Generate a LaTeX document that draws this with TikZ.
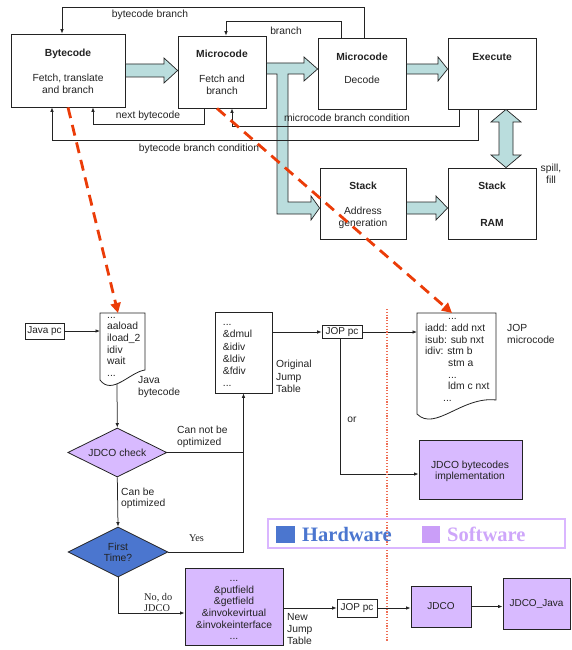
\documentclass[tikz,border=0pt]{standalone}
\usepackage{fontspec}
\setmainfont{Liberation Sans}
\newfontfamily\serifface{Liberation Serif}
\usetikzlibrary{arrows.meta,shapes.geometric,calc}

\definecolor{pipeteal}{RGB}{186,221,221}
\definecolor{swfill}{RGB}{216,186,255}
\definecolor{hwblue}{RGB}{75,118,207}
\definecolor{swkey}{RGB}{202,158,248}
\definecolor{swword}{RGB}{206,166,250}
\definecolor{legendframe}{RGB}{218,182,255}
\definecolor{pathred}{RGB}{235,60,8}
\definecolor{splitred}{RGB}{238,110,85}
\definecolor{ink}{RGB}{35,35,35}

\tikzset{
  every node/.style={text=ink},
  blk/.style={draw=ink, line width=0.8pt, fill=white, inner sep=0pt},
  swblk/.style={blk, fill=swfill, line width=1pt},
  pipe/.style={fill=pipeteal, draw=ink, line width=0.7pt, line join=miter},
  wire/.style={draw=ink, line width=0.75pt},
  wirearr/.style={wire, -{Latex[length=4.5pt,width=3.6pt]}},
  redpath/.style={draw=pathred, line width=2.8pt, dash pattern=on 11pt off 7pt,
    -{Triangle[length=10pt,width=10pt]}},
  splitline/.style={draw=splitred, line width=1.2pt, dash pattern=on 1.2pt off 1.6pt},
  txt/.style={font=\fontsize{10.3}{12}\selectfont, inner sep=0pt},
  lbl/.style={txt, anchor=base},
  blockc/.style={txt, align=center, anchor=north},
  blockl/.style={txt, align=left, anchor=north west},
  holder/.style={inner sep=0pt, outer sep=0pt},
}

\begin{document}
\begin{tikzpicture}[x=1pt, y=-1pt]
\useasboundingbox (0,0) rectangle (571,650);

% ---------------- pipeline stages ----------------
\node[blk, minimum width=114pt, minimum height=73pt] (bc) at (68,70.5) {};
\node[blk, minimum width=88pt, minimum height=72pt] (mf) at (222,72) {};
\node[blk, minimum width=88pt, minimum height=71pt] (md) at (362,73.5) {};
\node[blk, minimum width=88pt, minimum height=71pt] (ex) at (492,73.5) {};
\node[blk, minimum width=86pt, minimum height=71pt] (sa) at (363,203.5) {};
\node[blk, minimum width=88pt, minimum height=71pt] (ram) at (492,203.5) {};

\node[blockc] (bctext) at (68,48.2) {\strut\textbf{Bytecode}\\[13pt]Fetch, translate\\and branch};
\node[blockc] (mftext) at (222,49.2) {\strut\textbf{Microcode}\\[13pt]Fetch and\\branch};
\node[blockc] (mdtext) at (362,52.2) {\strut\textbf{Microcode}\\[11pt]Decode};
\node[blockc] (extext) at (492,52.2) {\strut\textbf{Execute}};
\node[blockc] (satext) at (363,181.2) {\strut\textbf{Stack}\\[13pt]Address\\generation};
\node[blockc] (ramtext) at (492,181.2) {\strut\textbf{Stack}\\[25pt]\textbf{RAM}};

% wide data-path arrows
\draw[pipe] (bc.east |- 0,64) -- (164,64) -- (164,58) -- (mf.west |- 0,70.5)
  -- (164,83) -- (164,77) -- (bc.east |- 0,77) -- cycle;
\draw[pipe] (mf.east |- 0,63) -- (304,63) -- (304,57) -- (md.west |- 0,69)
  -- (304,81) -- (304,74) -- (288,74) -- (288,202) -- (311,202) -- (311,196)
  -- (sa.west |- 0,208) -- (311,220) -- (311,214) -- (277,214) -- (277,74)
  -- (mf.east |- 0,74) -- cycle;
\draw[pipe] (md.east |- 0,64) -- (438,64) -- (438,57) -- (ex.west |- 0,69)
  -- (438,81) -- (438,74) -- (md.east |- 0,74) -- cycle;
\draw[pipe] (sa.east |- 0,202) -- (436,202) -- (436,196) -- (ram.west |- 0,208)
  -- (436,220) -- (436,214) -- (sa.east |- 0,214) -- cycle;
\draw[pipe] (ex.south -| 506,0) -- (521,122) -- (513,122) -- (513,155) -- (521,155)
  -- (ram.north -| 506,0) -- (491,155) -- (499,155) -- (499,122) -- (491,122) -- cycle;

% control feedback wires
\draw[wirearr] (md.north -| 364,0) -- (364,7) -- (62,7) -- (bc.north -| 62,0);
\draw[wirearr] (md.north -| 341,0) -- (341,21) -- (226,21) -- (mf.north -| 226,0);
\draw[wirearr] (mf.south -| 204,0) -- (204,124) -- (93,124) -- (bc.south -| 93,0);
\draw[wirearr] (ex.south -| 459,0) -- (459,126) -- (232,126) -- (mf.south -| 232,0);
\draw[wirearr] (ex.south -| 478,0) -- (478,140) -- (52,140) -- (bc.south -| 52,0);

\node[lbl] (lbbranch) at (150,17.5) {bytecode branch};
\node[lbl] (lmbranch) at (286,34.5) {branch};
\node[lbl] (lnext) at (148,118.5) {next bytecode};
\node[lbl] (lmcond) at (347,121.5) {microcode branch condition};
\node[lbl] (lbcond) at (199,151.5) {bytecode branch condition};
\node[blockc] (lspill) at (551,163.1) {\strut spill,\\fill};

% ---------------- bytecode dispatch ----------------
\node[blk, minimum width=39pt, minimum height=16pt] (javapc) at (44.5,331) {Java pc};

\node[holder, minimum width=45pt, minimum height=67pt] (jbc) at (122.5,346.5) {};
\draw[blk] (jbc.north west) -- (jbc.north east) -- (145,370)
  .. controls (130,372) and (112,396) .. (jbc.south west) -- cycle;
\node[blockl, font=\fontsize{10.3}{11.7}\selectfont] (jbctext) at (107,309.7)
  {\strut...\\aaload\\iload\_2\\idiv\\wait\\...};
\coordinate (jbcfoot) at (117,384);
\node[blockl] (ljbc) at (138,375.1) {\strut Java\\bytecode};

\node[blk, minimum width=57pt, minimum height=81pt] (ojt) at (243.5,352.5) {};
\node[blockl, font=\fontsize{10.3}{12.2}\selectfont] (ojttext) at (222.7,317)
  {\strut...\\\&dmul\\\&idiv\\\&ldiv\\\&fdiv\\...};
\node[blockl, font=\fontsize{10.3}{12.5}\selectfont] (lojt) at (276,358.75)
  {\strut Original\\Jump\\Table};

\node[blk, minimum width=40pt, minimum height=13pt] (jp1) at (342,332) {JOP pc};

\node[holder, minimum width=79pt, minimum height=101pt] (jm) at (456.5,363.5) {};
\draw[blk] (jm.north west) -- (jm.north east) -- (496,400)
  .. controls (462,396) and (435,432) .. (jm.south west) -- cycle;
\node[blockl, font=\fontsize{10.3}{11.7}\selectfont] (jmtext) at (425,311.3)
  {\strut\hspace*{23pt}...\\iadd: add nxt\\isub: sub nxt\\idiv: stm b\\
   \hspace*{23pt}stm a\\\hspace*{23pt}...\\\hspace*{23pt}ldm c nxt\\\hspace*{18pt}...};
\node[blockl] (ljm) at (507,323.1) {\strut JOP\\microcode};

\node[swblk, minimum width=103pt, minimum height=59pt] (impl) at (470.5,469.5) {};
\node[blockc, font=\fontsize{10.3}{11}\selectfont] (impltext) at (470,460.9)
  {\strut JDCO bytecodes\\implementation};
\node[lbl] (lor) at (352,422.5) {or};

\node[diamond, draw=ink, line width=0.8pt, fill=swfill, aspect=2, inner sep=0pt,
  minimum width=99pt, minimum height=49pt, txt] (jc) at (117.3,452.5) {JDCO check};
\node[diamond, draw=ink, line width=0.8pt, fill=hwblue, aspect=2, inner sep=0pt,
  minimum width=100pt, minimum height=50pt, txt, align=center,
  font=\fontsize{10.3}{11}\selectfont] (ft) at (118,552) {First\\Time?};

\node[blockl] (lcannot) at (177,425.1) {\strut Can not be\\optimized};
\node[blockl, font=\fontsize{10.3}{11}\selectfont] (lcan) at (121,487.8) {\strut Can be\\optimized};
\node[lbl, font=\fontsize{10.3}{12}\serifface] (lyes) at (196.5,541.5) {Yes};
\node[blockl, font=\fontsize{10.3}{10.5}\serifface] (lno) at (144,593.15) {\strut No, do\\JDCO};

\node[swblk, minimum width=98pt, minimum height=77pt] (njt) at (234,606.5) {};
\node[blockc, font=\fontsize{10.3}{11.7}\selectfont] (njttext) at (234,573.1)
  {\strut...\\\&putfield\\\&getfield\\\&invokevirtual\\\&invokeinterface\\...};
\node[blockl] (lnjt) at (287,612.1) {\strut New\\Jump\\Table};

\node[blk, minimum width=40pt, minimum height=18pt] (jp2) at (357,608) {JOP pc};
\node[swblk, minimum width=60pt, minimum height=41pt] (jdco) at (441,606.5) {JDCO};
\node[swblk, minimum width=67pt, minimum height=51pt] (jj) at (536.5,603.5) {JDCO\_Java};

% flow wires
\draw[wirearr] (javapc.east) -- (jbc.west |- javapc.east);
\draw[wirearr] (jbcfoot) -- (jc.north);
\draw[wirearr] (jc.east) -- (jc.east -| ojt.south) -- (ojt.south);
\draw[wire] (ft.east) -- (ft.east -| ojt.south) -- (jc.east -| ojt.south);
\draw[wirearr] (jc.south) -- (ft.north);
\draw[wirearr] (ft.south) -- (ft.south |- 0,613) -- (njt.west |- 0,613);
\draw[wirearr] (ojt.east |- jp1.west) -- (jp1.west);
\draw[wirearr] (jp1.east) -- (jm.west |- jp1.east);
\draw[wirearr] (jp1.south -| 340,0) -- (340,474) -- (impl.west |- 0,474);
\draw[wirearr] (njt.east |- jp2.west) -- (jp2.west);
\draw[wirearr] (jp2.east) -- (jdco.west |- jp2.east);
\draw[wirearr] (jdco.east) -- (jj.west |- jdco.east);

% hardware / software split
\coordinate (splittop) at (387,309);
\coordinate (splitbot) at (387,641);
\draw[splitline] (splittop) -- (splitbot);

% legend
\node[draw=legendframe, line width=1.3pt, minimum width=297pt, minimum height=29pt,
  inner sep=0pt] (legend) at (416.5,533.5) {};
\node[fill=hwblue, minimum width=19pt, minimum height=17pt, inner sep=0pt] (hwkey) at (285.5,534.5) {};
\node[anchor=base west, inner sep=0pt, text=hwblue,
  font=\fontsize{20.5}{22}\serifface\bfseries] (hwname) at (302,541) {Hardware};
\node[fill=swkey, minimum width=18pt, minimum height=17pt, inner sep=0pt] (swkeybox) at (431,534.5) {};
\node[anchor=base west, inner sep=0pt, text=swword,
  font=\fontsize{20.5}{22}\serifface\bfseries] (swname) at (447,541) {Software};

% highlighted mapping paths
\draw[redpath] (bc.south) -- (jbc.north -| 118,0);
\draw[redpath] (mf.south -| 217,0) -- (jm.north -| 452,0);

\end{tikzpicture}
\end{document}
